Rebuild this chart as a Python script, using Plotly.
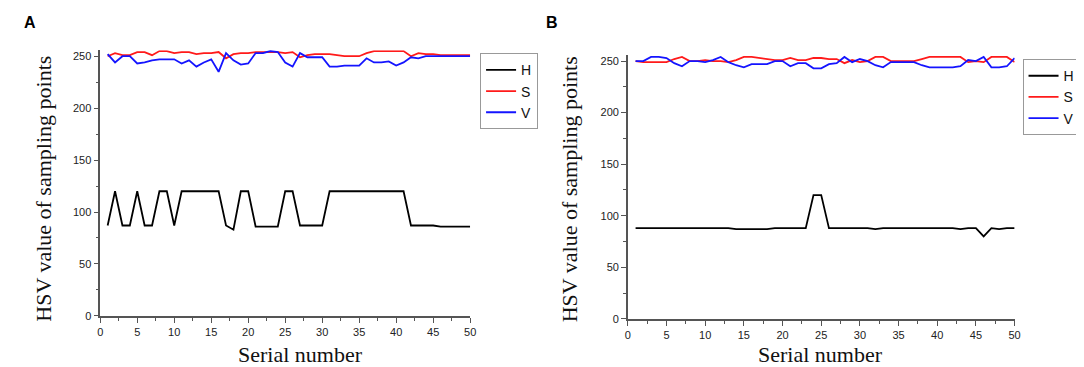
import plotly.graph_objects as go

serial = list(range(1, 51))

h_a = [87, 120, 87, 87, 120, 87, 87, 120, 120, 87,
       120, 120, 120, 120, 120, 120, 87, 83, 120, 120,
       86, 86, 86, 86, 120, 120, 87, 87, 87, 87,
       120, 120, 120, 120, 120, 120, 120, 120, 120, 120,
       120, 87, 87, 87, 87, 86, 86, 86, 86, 86]
s_a = [250, 253, 251, 251, 254, 254, 251, 255, 255, 253,
       254, 254, 252, 253, 253, 254, 248, 252, 253, 253,
       254, 254, 254, 254, 253, 254, 249, 251, 252, 252,
       252, 251, 250, 250, 250, 253, 255, 255, 255, 255,
       255, 250, 253, 252, 252, 251, 251, 251, 251, 251]
v_a = [252, 244, 250, 250, 243, 244, 246, 247, 247, 247,
       243, 246, 240, 244, 247, 235, 253, 246, 242, 243,
       253, 253, 255, 254, 244, 240, 253, 249, 249, 249,
       240, 240, 241, 241, 241, 248, 244, 244, 245, 241,
       244, 249, 248, 250, 250, 250, 250, 250, 250, 250]

h_b = [88, 88, 88, 88, 88, 88, 88, 88, 88, 88,
       88, 88, 88, 87, 87, 87, 87, 87, 88, 88,
       88, 88, 88, 120, 120, 88, 88, 88, 88, 88,
       88, 87, 88, 88, 88, 88, 88, 88, 88, 88,
       88, 88, 87, 88, 88, 80, 88, 87, 88, 88]
s_b = [250, 249, 249, 249, 249, 252, 254, 250, 250, 251,
       250, 250, 249, 251, 254, 254, 253, 252, 251, 251,
       253, 251, 251, 253, 253, 252, 252, 248, 251, 249,
       250, 254, 254, 250, 250, 250, 250, 252, 254, 254,
       254, 254, 254, 249, 250, 249, 254, 254, 254, 249]
v_b = [250, 250, 254, 254, 253, 248, 245, 250, 250, 249,
       251, 254, 249, 246, 244, 247, 247, 247, 250, 250,
       245, 248, 248, 243, 243, 247, 248, 254, 249, 252,
       250, 246, 244, 249, 249, 249, 249, 246, 244, 244,
       244, 244, 245, 251, 250, 254, 244, 244, 245, 253]

series_names = ["H", "S", "V"]
series_colors = ["#000000", "#ff1a1a", "#1414ff"]

W, H = 1084, 367

fig = go.Figure()

panels = [
    ("x", "y", "legend", [h_a, s_a, v_a]),
    ("x2", "y2", "legend2", [h_b, s_b, v_b]),
]
for xa, ya, lg, vals in panels:
    for name, col, ys in zip(series_names, series_colors, vals):
        fig.add_trace(go.Scatter(
            x=serial, y=ys, name=name, mode="lines",
            line=dict(color=col, width=1.8),
            xaxis=xa, yaxis=ya, legend=lg,
        ))

def px_x(p):
    return p / W

def px_y(p):
    return (H - p) / H

axis_common = dict(
    showline=True, linecolor="#555555", linewidth=1.5,
    ticks="outside", ticklen=5, tickwidth=1.2, tickcolor="#555555",
    showgrid=False, zeroline=False,
    tickfont=dict(family="Liberation Sans, Arial", size=11, color="#222222"),
    mirror=False,
)

def minor(d):
    return dict(ticks="outside", ticklen=3, dtick=d, tickcolor="#555555", tickwidth=1)

legend_font = dict(family="Liberation Sans, Arial", size=14, color="#111111")

fig.update_layout(
    width=W, height=H,
    margin=dict(l=0, r=0, t=0, b=0),
    paper_bgcolor="white", plot_bgcolor="white",
    xaxis=dict(domain=[px_x(90), px_x(463)], range=[0, 50], dtick=5, tick0=0,
               anchor="y", minor=minor(2.5), **axis_common),
    yaxis=dict(domain=[px_y(313), px_y(43)], range=[0, 255.7], dtick=50, tick0=0,
               anchor="x", minor=minor(25), **axis_common),
    xaxis2=dict(domain=[px_x(622), px_x(1012)], range=[0, 50], dtick=5, tick0=0,
                anchor="y2", minor=minor(2.5), **axis_common),
    yaxis2=dict(domain=[px_y(316), px_y(48)], range=[0, 255.7], dtick=50, tick0=0,
                anchor="x2", minor=minor(25), **axis_common),
    legend=dict(x=px_x(473), y=px_y(46), xanchor="left", yanchor="top",
                bgcolor="white", bordercolor="#999999", borderwidth=1,
                font=legend_font, itemwidth=30, tracegroupgap=0),
    legend2=dict(x=px_x(1020), y=px_y(52), xanchor="left", yanchor="top",
                 bgcolor="white", bordercolor="#999999", borderwidth=1,
                 font=legend_font, itemwidth=30, tracegroupgap=0),
    showlegend=True,
)

serif = dict(family="Liberation Serif, Times New Roman", size=22, color="#111111")
annots = [
    dict(text="HSV value of sampling points", x=px_x(33), y=px_y(184), textangle=-90,
         font=serif, yanchor="middle"),
    dict(text="HSV value of sampling points", x=px_x(564), y=px_y(184), textangle=-90,
         font=serif, yanchor="middle"),
    dict(text="Serial number", x=px_x(292), y=0.0, font=serif, yanchor="bottom"),
    dict(text="Serial number", x=px_x(816), y=0.0, font=serif, yanchor="bottom"),
    dict(text="<b>A</b>", x=px_x(19), y=px_y(15), yanchor="middle",
         font=dict(family="Liberation Sans, Arial", size=16, color="#000000")),
    dict(text="<b>B</b>", x=px_x(546), y=px_y(15), yanchor="middle",
         font=dict(family="Liberation Sans, Arial", size=16, color="#000000")),
]
for a in annots:
    fig.add_annotation(xref="paper", yref="paper", xanchor="center",
                       showarrow=False, **a)

fig.write_html("out.html")
